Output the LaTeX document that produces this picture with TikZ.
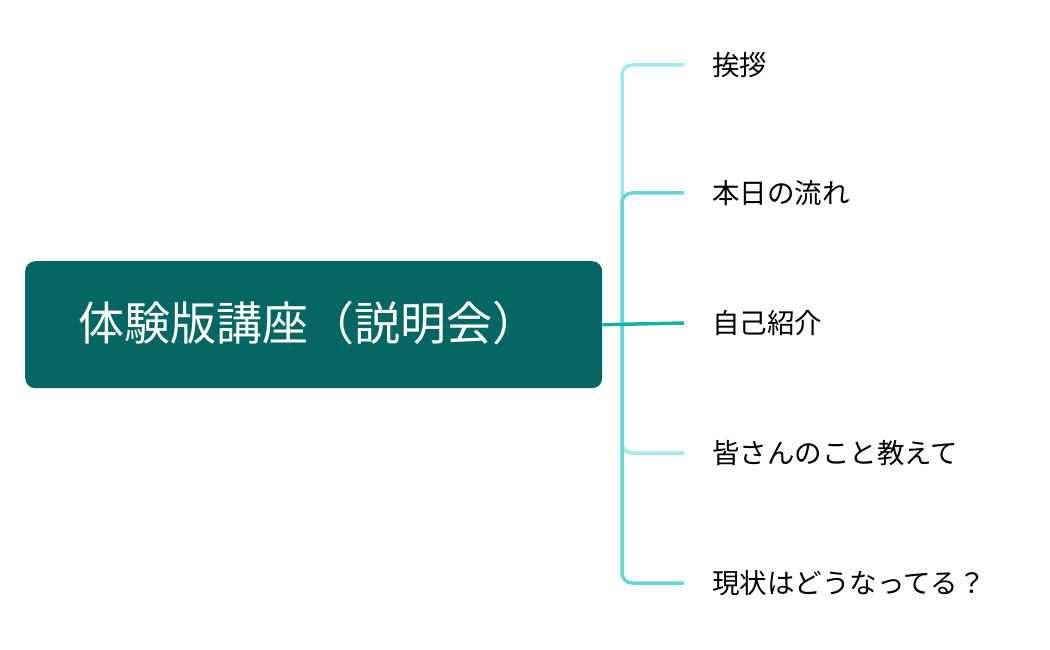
\documentclass[tikz,border=0pt]{standalone}
\usepackage{fontspec}
\newfontfamily\cjk{Noto Sans CJK JP}
\definecolor{rootc}{HTML}{066663}
\definecolor{lightc}{HTML}{A3E8EE}
\definecolor{midc}{HTML}{66D6D9}
\definecolor{darkc}{HTML}{12B2A9}
\tikzset{branch/.style={line width=3.5pt,rounded corners=10pt},
lbl/.style={anchor=west,font=\cjk\fontsize{27.5}{30}\selectfont,inner sep=0pt}}
\begin{document}
\begin{tikzpicture}[x=1pt,y=-1pt]
\useasboundingbox (0,0) rectangle (1050,650);
\node[fill=rootc,rounded corners=10pt,minimum width=577pt,minimum height=127pt,anchor=north west] (root) at (25,261) {};
\node[anchor=west,text=white,font=\cjk\fontsize{46}{52}\selectfont,inner sep=0pt] (rt) at (78,323) {体験版講座（説明会）};
\coordinate (j) at (622,323);
\node[lbl] (a) at (712,65) {挨拶};
\node[lbl] (b) at (712,193) {本日の流れ};
\node[lbl] (c) at (712,323) {自己紹介};
\node[lbl] (d) at (712,453) {皆さんのこと教えて};
\node[lbl] (e) at (712,583) {現状はどうなってる？};
\draw[branch,lightc] (j) |- ([xshift=-28pt]a.west);
\draw[branch,lightc] (j) |- ([xshift=-28pt]d.west);
\draw[branch,midc] (j) |- ([xshift=-28pt]b.west);
\draw[branch,midc] (j) |- ([xshift=-28pt]e.west);
\draw[line width=3.5pt,darkc] (root.east) -- ([xshift=-28pt]c.west);
\end{tikzpicture}
\end{document}
